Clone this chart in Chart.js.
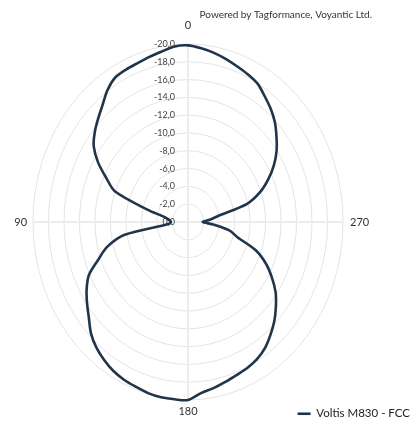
<!DOCTYPE html>
<html><head><meta charset="utf-8">
<script src="https://cdn.jsdelivr.net/npm/chart.js@4/dist/chart.umd.min.js"></script>
<style>html,body{margin:0;padding:0;background:#fff;}canvas{display:block;}</style>
</head><body>
<canvas id="c" width="418" height="425"></canvas>
<script>
// ---- data (angle in degrees, counter-clockwise from top; value in dB) ----
const angles = [0,5,10,15,20,25,30,35,40,45,50,55,60,65,70,75,80,85,90,95,100,105,110,115,
  120,125,130,135,140,145,150,155,160,165,170,175,180,185,190,195,200,205,210,215,220,225,230,235,
  240,245,250,255,260,265,270,275,280,285,290,295,300,305,310,315,320,325,330,335,340,345,350,355];
const sensitivity = [-19.85,-19.8,-19.45,-19.2,-19.0,-18.9,-18.75,-18.1,-17.15,-16.4,-15.7,-14.85,
  -13.4,-11.6,-10.0,-5.5,-3.0,-2.4,-2.2,-2.5,-8.3,-10.8,-12.3,-14.1,
  -15.1,-15.9,-16.7,-17.7,-18.4,-18.9,-19.3,-19.55,-19.7,-19.9,-20.0,-20.0,
  -20.0,-19.3,-18.95,-18.6,-18.3,-18.1,-17.8,-17.3,-16.55,-15.75,-14.8,-13.8,
  -12.5,-11.1,-9.3,-6.6,-5.4,-3.3,-1.9,-2.8,-4.0,-7.9,-9.95,-11.45,
  -12.8,-13.95,-14.9,-15.85,-16.6,-17.25,-17.95,-18.3,-18.6,-18.95,-19.3,-19.6];
const axisAngleLabels = [0, 90, 180, 270];
const radialMin = -20, radialMax = 0, radialStep = 2;
const seriesName = 'Voltis M830 - FCC';
const creditText = 'Powered by Tagformance, Voyantic Ltd.';

// Chart.js radar runs clockwise; the reference runs counter-clockwise.
const n = angles.length;
const order = angles.map((_, k) => (n - k) % n);
const chartLabels = order.map(i => angles[i]);
const chartValues = order.map(i => sensitivity[i]);

// ---- elliptical radial scale ----
class EllipseRadialScale extends Chart.RadialLinearScale {
  static id = 'ellipseRadial';
  setDimensions() {
    const f = this.options.frame;
    if (f) {
      this.left = f.left; this.right = f.right; this.top = f.top; this.bottom = f.bottom;
      this.maxWidth = f.right - f.left; this.maxHeight = f.bottom - f.top;
    }
    super.setDimensions();
  }
  getPointPosition(index, distance, additionalAngle = 0) {
    const p = super.getPointPosition(index, distance, additionalAngle);
    const k = this.options.xRatio || 1;
    return { x: this.xCenter + (p.x - this.xCenter) * k, y: p.y, angle: p.angle };
  }
  drawLabels() {
    const opts = this.options, tickOpts = opts.ticks;
    if (!tickOpts.display) return;
    const ctx = this.ctx;
    ctx.save();
    ctx.translate(this.xCenter, this.yCenter);
    ctx.textAlign = 'right';
    ctx.textBaseline = 'middle';
    this.ticks.forEach((tick, index) => {
      const o = tickOpts.setContext(this.getContext(index));
      const fnt = o.font || {};
      ctx.font = (fnt.style ? fnt.style + ' ' : '') + (fnt.weight ? fnt.weight + ' ' : '') + fnt.size + 'px ' + fnt.family;
      ctx.fillStyle = o.color;
      const offset = this.getDistanceFromCenterForValue(tick.value);
      ctx.fillText(tick.label, -(opts.tickOffsetX || 0), -offset);
    });
    ctx.restore();
  }
}
Chart.register(EllipseRadialScale);

const titleShift = {
  id: 'titleShift',
  afterLayout(chart, args, o) {
    if (chart.titleBlock && o.right) chart.titleBlock.right -= o.right;
  }
};

Chart.defaults.font.family = 'Lato, "Liberation Sans", sans-serif';

new Chart(document.getElementById('c'), {
  type: 'radar',
  data: {
    labels: chartLabels,
    datasets: [{
      label: seriesName,
      data: chartValues,
      borderColor: '#21354a',
      backgroundColor: '#21354a',
      borderWidth: 2.6,
      fill: false,
      pointRadius: 0,
      pointHoverRadius: 0,
      tension: 0.3,
      clip: false
    }]
  },
  options: {
    responsive: false,
    animation: false,
    events: [],
    layout: { padding: { left: 0, right: 4, top: 0, bottom: 5 } },
    plugins: {
      titleShift: { right: 42 },
      title: {
        display: true,
        text: creditText,
        align: 'end',
        color: '#333',
        font: { size: 10, weight: 'normal' },
        padding: { top: 9, bottom: 2 }
      },
      legend: {
        position: 'bottom',
        align: 'end',
        maxHeight: 16,
        labels: {
          usePointStyle: true,
          pointStyle: 'line',
          pointStyleWidth: 13,
          padding: 4,
          color: '#222',
          font: { size: 11.5 }
        }
      },
      tooltip: { enabled: false }
    },
    scales: {
      r: {
        type: 'ellipseRadial',
        frame: { left: 0, right: 376, top: 17.3, bottom: 423.7 },
        xRatio: 0.871,
        tickOffsetX: 13,
        min: radialMin,
        max: radialMax,
        reverse: true,
        startAngle: 0,
        grid: { circular: false, color: '#e4e4e4', lineWidth: 1 },
        angleLines: {
          color: '#ececec',
          lineWidth: (c) => (axisAngleLabels.includes(chartLabels[c.index]) ? 2 : 0)
        },
        pointLabels: {
          color: '#333',
          font: { size: 11 },
          padding: (c) => (c.index === 0 ? 7 : c.index === 18 ? 3.5 : c.index === 54 ? 2.3 : 0.5),
          callback: (label) => (axisAngleLabels.includes(label) ? String(label) : '')
        },
        ticks: {
          stepSize: radialStep,
          color: '#444',
          font: { size: 9 },
          showLabelBackdrop: false,
          backdropPadding: 0,
          callback: (v) => v.toFixed(1).replace('.', ',')
        }
      }
    }
  },
  plugins: [titleShift]
});
</script>
</body></html>
